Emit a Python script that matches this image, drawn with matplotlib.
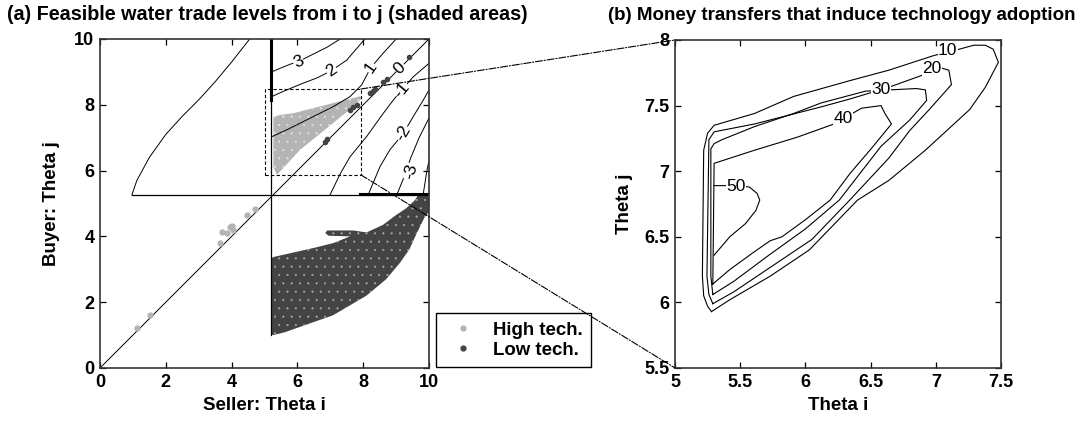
import matplotlib.pyplot as plt
from matplotlib.patches import Rectangle, ConnectionPatch
from matplotlib.lines import Line2D

plt.rcParams['font.family'] = ['Liberation Sans', 'DejaVu Sans']
plt.rcParams['font.weight'] = 'bold'
plt.rcParams['axes.labelweight'] = 'bold'
plt.rcParams['hatch.linewidth'] = 0.3

# ---------------- panel (a) data ----------------
diag_x = [0, 10]
diag_y = [0, 10]
vline_x = [5.2, 5.2]
vline_y = [1.0, 10.0]
vthick_y = [8.15, 10.0]
hline_x = [0.97, 10.0]
hline_y = [5.26, 5.26]
hthick_x = [7.9, 10.0]

# boundary curve on the upper left
bound_x = [0.97, 1.05, 1.12, 1.5, 2.0, 2.5, 3.0, 3.5, 4.0, 4.55]
bound_y = [5.26, 5.5, 5.7, 6.4, 7.1, 7.65, 8.15, 8.7, 9.3, 10.0]

# contour lines (upper left of diagonal)
c3_x = [5.22, 5.5, 5.8, 6.03, 6.4, 6.9, 7.3]
c3_y = [9.0, 9.12, 9.24, 9.31, 9.5, 9.75, 10.0]
c2_x = [5.22, 5.6, 6.08, 6.6, 7.04, 7.5, 8.05]
c2_y = [8.25, 8.42, 8.62, 8.82, 9.04, 9.36, 10.0]
c1_x = [5.22, 5.7, 6.1, 6.6, 7.1, 7.6, 7.95, 8.23, 8.6, 9.0]
c1_y = [7.03, 7.25, 7.45, 7.7, 7.95, 8.25, 8.6, 9.13, 9.56, 10.0]
# contour lines (lower right of diagonal)
cm1_x = [6.99, 7.3, 7.6, 8.1, 8.61, 8.92, 9.17, 9.52, 10.0]
cm1_y = [5.26, 5.9, 6.42, 7.03, 7.74, 8.15, 8.45, 8.85, 9.26]
cm2_x = [8.15, 8.51, 8.81, 9.22, 9.52, 9.83, 10.0]
cm2_y = [5.26, 6.12, 6.63, 7.13, 7.64, 8.15, 8.45]
cm3_x = [9.02, 9.2, 9.45, 9.7, 10.0]
cm3_y = [5.26, 5.7, 6.4, 7.0, 7.6]
cm4_x = [9.82, 9.94, 10.0]
cm4_y = [5.26, 6.02, 6.3]

lab_a_text = ['3', '2', '1', '0', '-1', '-2', '-3']
lab_a_x = [6.03, 7.04, 8.23, 9.12, 9.17, 9.22, 9.45]
lab_a_y = [9.31, 9.04, 9.13, 9.12, 8.45, 7.13, 5.97]
lab_a_rot = [25, 35, 55, 45, 50, 60, 75]

# shaded regions
high_x = [5.38, 6.08, 7.08, 7.7, 7.96, 7.9, 7.08, 6.6, 5.9, 5.47, 5.27, 5.27]
high_y = [5.87, 6.63, 7.44, 7.94, 8.2, 8.26, 8.05, 7.93, 7.75, 7.69, 7.63, 6.1]
low_x = [5.26, 5.6, 6.08, 7.08, 8.1, 8.7, 9.12, 9.4, 9.63, 9.85, 10.0, 10.0, 9.7,
         9.57, 9.3, 9.0, 8.6, 8.1, 7.7, 6.9, 6.85, 6.95, 7.6, 7.1, 6.5, 5.7, 5.3, 5.2, 5.2]
low_y = [1.0, 1.08, 1.25, 1.6, 2.2, 2.7, 3.2, 3.6, 4.1, 4.55, 4.75, 5.3, 5.3,
         5.1, 4.85, 4.65, 4.35, 4.12, 4.18, 4.18, 4.1, 4.02, 4.0, 3.8, 3.65, 3.47, 3.38, 3.34, 1.05]

high_pts_x = [1.12, 1.52, 3.65, 3.72, 3.86, 3.95, 4.05, 4.0, 4.47, 4.71]
high_pts_y = [1.22, 1.61, 3.80, 4.13, 4.10, 4.29, 4.20, 4.33, 4.65, 4.83]
low_pts_x = [6.84, 6.9, 7.6, 7.7, 7.8, 8.21, 8.3, 8.36, 8.61, 8.71, 9.40]
low_pts_y = [6.88, 6.95, 7.84, 7.92, 7.99, 8.35, 8.41, 8.47, 8.70, 8.78, 9.44]

zoom_box = [5.0, 5.87, 7.93, 8.48]  # x0, y0, x1, y1

# ---------------- panel (b) data ----------------
b10_x = [5.28, 5.42, 5.73, 6.03, 6.40, 6.64, 6.92, 7.26, 7.38, 7.48, 7.44, 7.38, 7.29, 7.18,
         6.98, 6.64, 6.34, 5.91, 5.61, 5.30, 5.25, 5.22, 5.21, 5.22, 5.25, 5.28]
b10_y = [5.93, 6.02, 6.20, 6.40, 6.78, 6.93, 7.16, 7.47, 7.64, 7.83, 7.93, 7.96, 7.96, 7.93,
         7.88, 7.77, 7.69, 7.57, 7.44, 7.35, 7.29, 7.16, 6.20, 6.05, 5.97, 5.93]
b20_x = [5.29, 5.45, 5.75, 6.05, 6.34, 6.64, 6.80, 6.95, 7.12, 7.10, 7.03, 6.92, 6.64,
         6.34, 6.12, 5.61, 5.30, 5.26, 5.245, 5.26, 5.29]
b20_y = [5.99, 6.08, 6.28, 6.48, 6.78, 7.10, 7.31, 7.47, 7.66, 7.77, 7.79, 7.74, 7.64,
         7.55, 7.49, 7.36, 7.30, 7.24, 6.20, 6.06, 5.99]
b30_x = [5.29, 5.45, 5.72, 6.00, 6.26, 6.58, 6.80, 6.93, 6.92, 6.85, 6.46, 6.12, 5.91,
         5.61, 5.36, 5.30, 5.275, 5.275, 5.29]
b30_y = [6.06, 6.16, 6.36, 6.56, 6.78, 7.19, 7.39, 7.54, 7.62, 7.63, 7.61, 7.52, 7.44,
         7.34, 7.24, 7.21, 7.17, 6.20, 6.06]
b40_x = [5.29, 5.42, 5.60, 5.73, 5.82, 6.00, 6.19, 6.34, 6.52, 6.66, 6.61, 6.58, 6.43,
         6.22, 5.94, 5.61, 5.30, 5.29]
b40_y = [6.14, 6.25, 6.38, 6.47, 6.50, 6.63, 6.78, 6.98, 7.19, 7.36, 7.44, 7.50, 7.48,
         7.36, 7.26, 7.16, 7.06, 6.14]
b50_x = [5.30, 5.40, 5.57, 5.63, 5.65, 5.62, 5.54, 5.42, 5.30]
b50_y = [6.89, 6.89, 6.88, 6.83, 6.78, 6.70, 6.60, 6.50, 6.36]

lab_b_text = ['10', '20', '30', '40', '50']
lab_b_x = [7.09, 6.97, 6.58, 6.29, 5.47]
lab_b_y = [7.92, 7.78, 7.62, 7.40, 6.88]

light = '#b4b4b4'
dark = '#444444'

fig = plt.figure(figsize=(10.8, 4.25), dpi=100)
ax1 = fig.add_axes([100 / 1080, 57 / 425, 329 / 1080, 329 / 425])
ax2 = fig.add_axes([675 / 1080, 57 / 425, 326 / 1080, 328 / 425])

# --- panel (a)
ax1.fill(high_x, high_y, facecolor=light, edgecolor='#e4e4e4', lw=0, hatch='..', zorder=2)
ax1.fill(low_x, low_y, facecolor=dark, edgecolor='#a8a8a8', lw=0, hatch='..', zorder=2)
ax1.plot(high_pts_x, high_pts_y, 'o', color=light, ms=3.5, zorder=3)
ax1.plot(low_pts_x, low_pts_y, 'o', color=dark, ms=3, zorder=3)

ax1.plot(diag_x, diag_y, color='k', lw=0.7, zorder=2)
ax1.plot(vline_x, vline_y, color='k', lw=0.9, zorder=2)
ax1.plot([5.2, 5.2], vthick_y, color='k', lw=2.2, zorder=2)
ax1.plot(hline_x, hline_y, color='k', lw=0.9, zorder=2)
ax1.plot(hthick_x, [5.29, 5.29], color='k', lw=2.2, zorder=2)
ax1.plot(bound_x, bound_y, color='k', lw=0.7, zorder=2)
for cx, cy in [(c3_x, c3_y), (c2_x, c2_y), (c1_x, c1_y),
               (cm1_x, cm1_y), (cm2_x, cm2_y), (cm3_x, cm3_y), (cm4_x, cm4_y)]:
    ax1.plot(cx, cy, color='k', lw=0.7, zorder=2)
for t, x, y, r in zip(lab_a_text, lab_a_x, lab_a_y, lab_a_rot):
    ax1.text(x, y, t, rotation=r, ha='center', va='center', fontsize=12.5, fontweight='normal',
             bbox=dict(facecolor='white', edgecolor='none', pad=0.3), zorder=4)

x0, y0, x1, y1 = zoom_box
ax1.add_patch(Rectangle((x0, y0), x1 - x0, y1 - y0, fill=False, lw=0.8,
                        linestyle=(0, (3, 2)), zorder=5))

ax1.set_xlim(0, 10)
ax1.set_ylim(0, 10)
ax1.set_xticks([0, 2, 4, 6, 8, 10])
ax1.set_yticks([0, 2, 4, 6, 8, 10])
ax1.set_xlabel('Seller: Theta i', fontsize=13.5, labelpad=5)
ax1.set_ylabel('Buyer: Theta j', fontsize=13.5, labelpad=10)

# --- panel (b)
for cx, cy in [(b10_x, b10_y), (b20_x, b20_y), (b30_x, b30_y), (b40_x, b40_y), (b50_x, b50_y)]:
    ax2.plot(cx, cy, color='k', lw=0.8)
for t, x, y in zip(lab_b_text, lab_b_x, lab_b_y):
    ax2.text(x, y, t, ha='center', va='center', fontsize=12.5, fontweight='normal',
             bbox=dict(facecolor='white', edgecolor='none', pad=0.2), zorder=4)
ax2.set_xlim(5, 7.5)
ax2.set_ylim(5.5, 8)
ax2.set_xticks([5, 5.5, 6, 6.5, 7, 7.5])
ax2.set_yticks([5.5, 6, 6.5, 7, 7.5, 8])
ax2.set_xticklabels(['5', '5.5', '6', '6.5', '7', '7.5'])
ax2.set_yticklabels(['5.5', '6', '6.5', '7', '7.5', '8'])
ax2.set_xlabel('Theta i', fontsize=13.5, labelpad=5)
ax2.set_ylabel('Theta j', fontsize=13.5, labelpad=8)

for ax in (ax1, ax2):
    ax.tick_params(direction='in', top=True, right=True, length=4, width=0.9,
                   labelsize=13, pad=4)
    for s in ax.spines.values():
        s.set_linewidth(1.2)
        s.set_color('#333333')

# connectors from the zoom box to panel (b)
for pa, pb in [((x1, y1), (5, 8)), ((x1, y0), (5, 5.5))]:
    con = ConnectionPatch(xyA=pa, coordsA=ax1.transData, xyB=pb, coordsB=ax2.transData,
                          linestyle='-.', lw=0.8, color='k', zorder=6)
    fig.add_artist(con)

fig.text(267 / 1080, 1 - 15 / 425, '(a) Feasible water trade levels from i to j (shaded areas)',
         ha='center', va='center', fontsize=14.2)
fig.text(842 / 1080, 1 - 15 / 425, '(b) Money transfers that induce technology adoption',
         ha='center', va='center', fontsize=13.5)

handles = [Line2D([], [], marker='.', color=light, ls='none', ms=7),
           Line2D([], [], marker='.', color=dark, ls='none', ms=7)]
leg = fig.legend(handles, ['High tech.', 'Low tech.'], loc='lower left',
                 bbox_to_anchor=(436 / 1080, 58 / 425), fontsize=13.4, fancybox=False,
                 edgecolor='k', framealpha=1, handlelength=2.0, borderpad=0.45,
                 labelspacing=0.15, handletextpad=0.6, borderaxespad=0)
leg.get_frame().set_linewidth(1.0)

fig.savefig('out.png', dpi=100)
